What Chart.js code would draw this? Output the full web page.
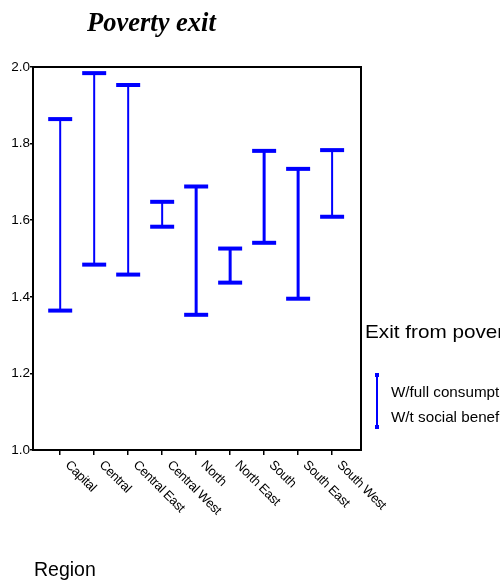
<!DOCTYPE html>
<html><head><meta charset="utf-8">
<script src="https://cdn.jsdelivr.net/npm/chart.js@4"></script>
<style>html,body{margin:0;padding:0;background:#fff}#wrap{width:502px;height:580px;position:relative;overflow:hidden}</style>
</head><body><div id="wrap"><canvas id="c" width="502" height="580"></canvas></div>
<script>
// ---- data ----
const regions = ['Capital','Central','Central East','Central West','North','North East','South','South East','South West'];
const upper = [1.864,1.984,1.953,1.648,1.688,1.526,1.781,1.734,1.783];
const lower = [1.364,1.484,1.458,1.583,1.353,1.437,1.541,1.395,1.609];
const yTickValues = [1.0,1.2,1.4,1.6,1.8,2.0];
const titleText = 'Poverty exit';
const legendTitle = 'Exit from poverty';
const legendLabels = ['W/full consumption','W/t social benefits'];
const axisTitle = 'Region';
// ---- style ----
const thick = [false,false,false,false,true,true,true,true,false];
const BLUE = '#0000ff';

const barData = regions.map((r,i)=>({x:i, y:[lower[i], upper[i]]}));
const hiData = regions.map((r,i)=>({x:i, y:upper[i]}));
const loData = regions.map((r,i)=>({x:i, y:lower[i]}));

function stretchedText(ctx, txt, x, y, sx){
  ctx.save(); ctx.translate(x, y); ctx.scale(sx, 1); ctx.fillText(txt, 0, 0); ctx.restore();
}

const deco = {
  id:'deco',
  afterDraw(chart){
    const ctx = chart.ctx, a = chart.chartArea, xs = chart.scales.x;
    ctx.save();
    // frame
    ctx.strokeStyle = '#000'; ctx.lineWidth = 2;
    ctx.strokeRect(a.left, a.top, a.right - a.left, a.bottom - a.top);
    // rotated category labels
    ctx.fillStyle = '#000';
    ctx.font = '13px "Liberation Sans", Arial, sans-serif';
    try { ctx.letterSpacing = '-0.4px'; } catch(e) {}
    regions.forEach((r,i)=>{
      const x = xs.getPixelForValue(i);
      ctx.save();
      ctx.translate(x + 7, a.bottom + 13);
      ctx.rotate(Math.PI/4);
      ctx.textAlign = 'left'; ctx.textBaseline = 'middle';
      ctx.fillText(r, 0, 0);
      ctx.restore();
    });
    try { ctx.letterSpacing = '0px'; } catch(e) {}
    // title
    ctx.font = 'italic bold 26.5px "Liberation Serif", "Times New Roman", serif';
    ctx.textAlign = 'left'; ctx.textBaseline = 'alphabetic';
    ctx.fillText(titleText, 87, 31);
    // axis title
    ctx.font = '19.5px "Liberation Sans", Arial, sans-serif';
    ctx.fillText(axisTitle, 34, 576);
    // legend (clipped box like the original)
    ctx.save();
    ctx.beginPath(); ctx.rect(362, 300, 138, 150); ctx.clip();
    ctx.font = '19px "Liberation Sans", Arial, sans-serif';
    stretchedText(ctx, legendTitle, 365, 338, 1.09);
    ctx.strokeStyle = BLUE; ctx.fillStyle = BLUE; ctx.lineWidth = 2;
    ctx.beginPath(); ctx.moveTo(377, 375); ctx.lineTo(377, 427); ctx.stroke();
    ctx.fillRect(375, 373, 4, 4);
    ctx.fillRect(375, 425, 4, 4);
    ctx.fillStyle = '#000';
    ctx.font = '14.5px "Liberation Sans", Arial, sans-serif';
    stretchedText(ctx, legendLabels[0], 391, 397, 1.05);
    stretchedText(ctx, legendLabels[1], 391, 422, 1.05);
    ctx.restore();
    ctx.restore();
  }
};

new Chart(document.getElementById('c'), {
  type: 'bar',
  data: {
    datasets: [
      { type:'bar', data: barData, backgroundColor: BLUE, borderWidth: 0, barThickness: 2,
        inflateAmount: (c)=> thick[c.dataIndex] ? 0.5 : 0, grouped:false, order: 2 },
      { type:'scatter', data: hiData, pointStyle:'line', pointRadius: 12, borderColor: BLUE, borderWidth: 4, backgroundColor: BLUE, order: 1 },
      { type:'scatter', data: loData, pointStyle:'line', pointRadius: 12, borderColor: BLUE, borderWidth: 4, backgroundColor: BLUE, order: 1 }
    ]
  },
  options: {
    responsive: false, animation: false, devicePixelRatio: 1, events: [],
    layout: { padding: { left: 0, top: 67, right: 141, bottom: 0 } },
    plugins: { legend: { display:false }, title: { display:false }, tooltip: { enabled:false } },
    scales: {
      x: {
        type: 'linear', min: -0.8, max: 8.85, offset: false,
        afterBuildTicks: (s)=>{ s.ticks = regions.map((r,i)=>({value:i})); },
        ticks: { display: false },
        grid: { display: true, offset: false, drawOnChartArea: false, drawTicks: true, tickLength: 5, color: '#000', lineWidth: 1.5 },
        border: { display: false },
        afterFit: (s)=>{ s.height = 130; }
      },
      y: {
        type: 'linear', min: 1.0, max: 2.0,
        afterBuildTicks: (s)=>{ s.ticks = yTickValues.map(v=>({value:v})); },
        ticks: { callback: (v)=> Number(v).toFixed(1), color:'#000', padding: 0,
                 font: { size: 13.5, family: '"Liberation Sans", Arial, sans-serif' } },
        grid: { display: true, drawOnChartArea: false, drawTicks: true, tickLength: 3, color: '#000', lineWidth: 1.5 },
        border: { display: false },
        afterFit: (s)=>{ s.width = 33; }
      }
    }
  },
  plugins: [deco]
});
</script>
</body></html>
